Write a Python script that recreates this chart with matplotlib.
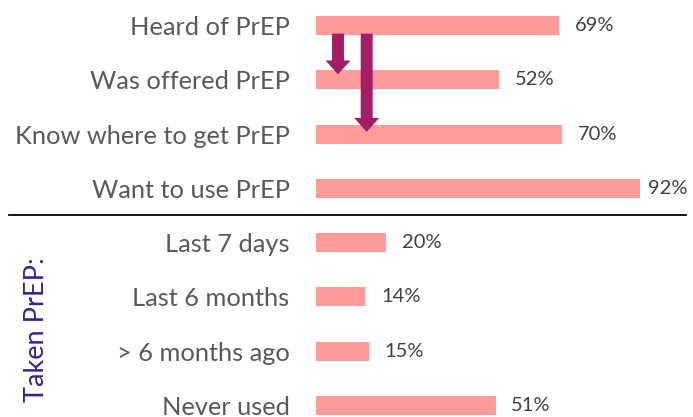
import matplotlib
matplotlib.use("Agg")
import matplotlib.pyplot as plt
import matplotlib.transforms as mtrans

categories = ["Heard of PrEP", "Was offered PrEP", "Know where to get PrEP", "Want to use PrEP",
              "Last 7 days", "Last 6 months", "> 6 months ago", "Never used"]
values = [69, 52, 70, 92, 20, 14, 15, 51]
value_labels = ["69%", "52%", "70%", "92%", "20%", "14%", "15%", "51%"]
group_label = "Taken PrEP:"

BAR = "#FF9B9B"
CAT = "#595959"
VAL = "#404040"
ARROW = "#A51D66"
ARROW_IN = "#FF3C9E"
GROUP = "#3B1F8E"
FONT = ["Lato", "DejaVu Sans"]

fig = plt.figure(figsize=(6.93, 4.17), dpi=100)
ax = fig.add_axes([316/693, 0, 352/693, 1])
y = list(range(len(categories)))
ax.barh(y, values, height=0.35, color=BAR)
ax.set_xlim(0, 100)
ax.set_ylim(7.215, -0.47)
ax.set_yticks(y)
ax.set_yticklabels(categories, fontsize=18.3, color=CAT, family=FONT)
ax.tick_params(axis="y", length=0, pad=19)
ax.set_xticks([])
for s in ax.spines.values():
    s.set_visible(False)

for yi, v, lab in zip(y, values, value_labels):
    ax.text(min(v + 4.5, 94.3), yi, lab, va="center", ha="left", fontsize=14.5,
            color=VAL, family=FONT)

# separator line between groups
tr = mtrans.blended_transform_factory(fig.transFigure, ax.transData)
ax.plot([9/693, 686/693], [3.5, 3.5], color="black", lw=1.3, transform=tr, clip_on=False)

# arrows
for xa, y0, y1, yh in [(6.25, 0.15, 0.90, 0.64), (14.4, 0.15, 1.96, 1.70)]:
    ax.annotate("", xy=(xa, y1), xytext=(xa, y0),
                arrowprops=dict(arrowstyle="simple,head_length=10,head_width=18,tail_width=8.6",
                                mutation_scale=1, color=ARROW, shrinkA=0, shrinkB=0, lw=0))
    ax.plot([xa, xa], [y0 + 0.03, yh], color=ARROW_IN, lw=1.4, solid_capstyle="butt")

fig.text(36/693, 1 - 330/417, group_label, rotation=90, ha="center", va="center",
         fontsize=19.5, color=GROUP, family=FONT)

fig.savefig("out.png", dpi=100)
